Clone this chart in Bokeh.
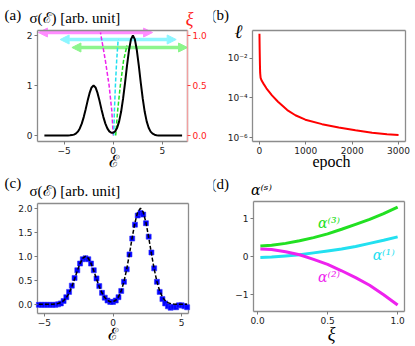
import math
from bokeh.plotting import figure
from bokeh.models import Range1d, LinearAxis, FixedTicker, Label, Arrow, NormalHead
from bokeh.layouts import column, row
from bokeh.embed import file_html
from bokeh.resources import INLINE

# ---------------- data ----------------
energy = [-7.0, -5.4, -5.2, -5.0, -4.8, -4.6, -4.4, -4.2, -4.0, -3.8, -3.6, -3.4, -3.2, -3.0,
          -2.8, -2.6, -2.4, -2.2, -2.0, -1.8, -1.6, -1.4, -1.2, -1.0, -0.8, -0.6, -0.4, -0.2,
          0.0, 0.2, 0.4, 0.6, 0.8, 1.0, 1.2, 1.4, 1.6, 1.8, 2.0, 2.2, 2.4, 2.6, 2.8, 3.0,
          3.2, 3.4, 3.6, 3.8, 4.0, 4.2, 4.4, 4.6, 4.8, 5.0, 5.2, 5.4, 7.0]
sigma_true = [0, 0, 0, 0.0001, 0.0004, 0.0012, 0.003, 0.008, 0.018, 0.039, 0.077, 0.141, 0.237, 0.368,
              0.527, 0.698, 0.852, 0.961, 1.0, 0.961, 0.852, 0.698, 0.527, 0.368, 0.238, 0.143, 0.083, 0.055,
              0.055, 0.086, 0.157, 0.283, 0.474, 0.736, 1.054, 1.396, 1.704, 1.922, 2.0, 1.922, 1.704, 1.396, 1.054, 0.736,
              0.474, 0.282, 0.154, 0.078, 0.037, 0.016, 0.006, 0.0024, 0.0008, 0.0002, 0, 0, 0]

recon_energy = [-5.4, -5.2, -5.0, -4.8, -4.6, -4.4, -4.2, -4.0, -3.8, -3.6, -3.4, -3.2, -3.0,
                -2.8, -2.6, -2.4, -2.2, -2.0, -1.8, -1.6, -1.4, -1.2, -1.0, -0.8, -0.6, -0.4, -0.2,
                0.0, 0.2, 0.4, 0.6, 0.8, 1.0, 1.2, 1.4, 1.6, 1.8, 2.0, 2.2, 2.4, 2.6, 2.8, 3.0,
                3.2, 3.4, 3.6, 3.8, 4.0, 4.2, 4.4, 4.6, 4.8, 5.0, 5.2, 5.4]
sigma_recon = [-0.01, -0.01, -0.01, -0.01, -0.01, -0.01, -0.01, 0.0, 0.02, 0.07, 0.15, 0.26, 0.39,
               0.55, 0.71, 0.85, 0.94, 0.96, 0.94, 0.85, 0.71, 0.54, 0.38, 0.24, 0.14, 0.08, 0.05,
               0.05, 0.08, 0.15, 0.28, 0.47, 0.73, 1.04, 1.37, 1.66, 1.85, 1.90, 1.87, 1.69, 1.41, 1.08, 0.75,
               0.47, 0.26, 0.11, 0.02, -0.04, -0.07, -0.05, -0.06, -0.02, -0.02, -0.04, -0.06]

# panel (a): dashed E(xi) curves and double arrows (magenta, cyan, green)
dash_xi_m = [0.0, 0.25, 0.5, 0.75, 1.03]
dash_E_m = [0.0, -0.15, -0.42, -0.8, -1.3]
dash_xi_c = [0.0, 0.25, 0.5, 0.75, 0.96]
dash_E_c = [0.05, 0.12, 0.22, 0.35, 0.5]
dash_xi_g = [0.0, 0.25, 0.5, 0.75, 0.9]
dash_E_g = [0.25, 0.45, 0.72, 1.05, 1.4]
arrow_xi = [1.03, 0.96, 0.88]
arrow_E_start = [-7.6, -5.4, -4.2]
arrow_E_end = [4.0, 6.4, 7.55]

# panel (b): loss vs epoch
epoch = [0, 5, 10, 15, 25, 50, 90, 150, 270, 400, 600, 775, 990, 1350, 1710, 2070, 2430, 2750, 3000]
loss = [0.166, 0.025, 5.0e-3, 1.78e-3, 1.0e-3, 7.1e-4, 5.0e-4, 3.0e-4, 1.32e-4, 6.3e-5, 2.4e-5,
        1.32e-5, 7.9e-6, 4.7e-6, 3.2e-6, 2.3e-6, 1.74e-6, 1.45e-6, 1.35e-6]

# panel (d): alpha^(s) vs xi
xi = [0.02, 0.1, 0.2, 0.3, 0.4, 0.5, 0.6, 0.7, 0.8, 0.9, 1.0]
alpha1 = [-0.02, -0.01, 0.02, 0.05, 0.1, 0.15, 0.2, 0.27, 0.35, 0.43, 0.52]
alpha2 = [0.2, 0.19, 0.13, 0.05, -0.07, -0.2, -0.37, -0.55, -0.75, -1.0, -1.27]
alpha3 = [0.28, 0.3, 0.35, 0.42, 0.5, 0.6, 0.72, 0.85, 0.98, 1.13, 1.3]

ticks_a_x = [-5, 0, 5]
ticks_a_y = [0, 1, 2]
ticks_a_xi = [0, 0.5, 1]
labels_a_xi = {0: "0.0", 0.5: "0.5", 1: "1.0"}
ticks_b_x = [0, 1000, 2000, 3000]
ticks_b_y = [1e-6, 1e-4, 1e-2]
labels_b_y = {1e-6: "10\u207b\u2076", 1e-4: "10\u207b\u2074", 1e-2: "10\u207b\u00b2"}
ticks_c_x = [-5, 0, 5]
ticks_c_y = [0, 0.5, 1, 1.5, 2]
labels_c_y = {0: "0.0", 0.5: "0.5", 1: "1.0", 1.5: "1.5", 2: "2.0"}
ticks_d_x = [0, 0.5, 1]
labels_d_x = {0: "0.0", 0.5: "0.5", 1: "1.0"}
ticks_d_y = [-1, 0, 1]

MAG, CYA, GRN = "#ee22ee", "#22e0f0", "#22e022"
MAG_L, CYA_L, GRN_L = "#ff8cff", "#8cf6ff", "#8cf58c"
FRAME = "#8c8c8c"
TICKFONT = "DejaVu Sans"
SERIF = "Liberation Serif"

# ---------------- helpers ----------------
# Each figure's plotting frame fills its whole canvas; the visible axes box ("inner frame")
def to_data(px, py, frame, xr, yr, ylog=False):
    l, t, r, b = frame
    x = xr[0] + (px - l) / (r - l) * (xr[1] - xr[0])
    if ylog:
        a, c = math.log10(yr[0]), math.log10(yr[1])
        y = 10 ** (a + (b - py) / (b - t) * (c - a))
    else:
        y = yr[0] + (b - py) / (b - t) * (yr[1] - yr[0])
    return x, y

def make_fig(geom, frame, xr, yr, ylog=False):
    ox, oy, w, h = geom
    x0, y0 = to_data(ox, oy + h, frame, xr, yr, ylog)
    x1, y1 = to_data(ox + w, oy, frame, xr, yr, ylog)
    p = figure(width=w, height=h, x_range=Range1d(x0, x1), y_range=Range1d(y0, y1),
               y_axis_type="log" if ylog else "linear",
               output_backend="svg", toolbar_location=None, min_border=0)
    p.xgrid.visible = False
    p.ygrid.visible = False
    p.outline_line_color = None
    p.background_fill_color = "white"
    p.border_fill_color = "white"
    # axes box drawn as four edge segments
    p.segment(x0=[xr[0], xr[0], xr[0], xr[1]], y0=[yr[0], yr[1], yr[0], yr[0]],
              x1=[xr[1], xr[1], xr[0], xr[1]], y1=[yr[0], yr[1], yr[1], yr[1]],
              line_color=FRAME, line_width=1.3)
    p.xaxis[0].fixed_location = yr[0]
    p.yaxis[0].fixed_location = xr[0]
    return p

def style_axis(ax, ticks, over=None, color="#222222", tick="#7a7a7a"):
    ax.ticker = FixedTicker(ticks=ticks)
    ax.axis_line_color = None
    ax.major_tick_line_color = tick
    ax.major_tick_line_width = 1
    ax.major_tick_in = 0
    ax.major_tick_out = 3
    ax.minor_tick_line_color = None
    ax.major_label_text_font = TICKFONT
    ax.major_label_text_font_size = "9px"
    ax.major_label_text_color = color
    ax.major_label_standoff = 2
    if over:
        ax.major_label_overrides = over

def lab(p, frame, xr, yr, px, py, text, size, font=SERIF, color="black",
        align="left", fstyle="normal", ylog=False):
    x, y = to_data(px, py, frame, xr, yr, ylog)
    p.add_layout(Label(x=x, y=y, text=text, text_font=font, text_font_size=f"{size}px",
                       text_color=color, text_align=align, text_baseline="middle",
                       text_font_style=fstyle))

# ---------------- panel (a) ----------------
geom_a = (0, 0, 213, 170)
frame_a = (37, 30, 187, 141)
xr_a, yr_a, xir_a = (-7.7, 7.55), (-0.12, 2.1), (-0.06, 1.05)
pa = make_fig(geom_a, frame_a, xr_a, yr_a)
_, xi_lo = to_data(0, geom_a[1] + geom_a[3], frame_a, xr_a, xir_a)
_, xi_hi = to_data(0, geom_a[1], frame_a, xr_a, xir_a)
pa.extra_y_ranges = {"xi": Range1d(xi_lo, xi_hi)}
style_axis(pa.xaxis[0], ticks_a_x, {-5: "\u22125"})
style_axis(pa.yaxis[0], ticks_a_y)
ax_r = LinearAxis(y_range_name="xi", fixed_location=xr_a[1])
style_axis(ax_r, ticks_a_xi, labels_a_xi, color="#ff2020", tick="#ff4040")
pa.add_layout(ax_r, "right")
pa.segment(x0=[xr_a[1]], y0=[xir_a[0]], x1=[xr_a[1]], y1=[xir_a[1]], y_range_name="xi",
           line_color="#f2a0a0", line_width=1.3)

for c, xs, xe, yv in zip([MAG_L, CYA_L, GRN_L], arrow_E_start, arrow_E_end, arrow_xi):
    pa.add_layout(Arrow(start=NormalHead(size=9, fill_color=c, line_color=c),
                        end=NormalHead(size=9, fill_color=c, line_color=c),
                        x_start=xs, y_start=yv, x_end=xe, y_end=yv,
                        line_color=c, line_width=3.5, y_range_name="xi", level="underlay"))
pa.line(dash_E_m, dash_xi_m, y_range_name="xi", line_color=MAG, line_width=1.5, line_dash="4 2")
pa.line(dash_E_c, dash_xi_c, y_range_name="xi", line_color=CYA, line_width=1.5, line_dash="4 2")
pa.line(dash_E_g, dash_xi_g, y_range_name="xi", line_color=GRN, line_width=1.5, line_dash="4 2")
pa.line(energy, sigma_true, line_color="black", line_width=2)

lab(pa, frame_a, xr_a, yr_a, 4, 14, "(a)", 15)
lab(pa, frame_a, xr_a, yr_a, 29, 17, "\u03c3(\u2130) [arb. unit]", 15)
lab(pa, frame_a, xr_a, yr_a, 189, 18, "\u03be", 18, color="#ff2020", align="center", fstyle="italic")
lab(pa, frame_a, xr_a, yr_a, 113, 161, "\u2130", 17, align="center")

# ---------------- panel (b) ----------------
geom_b = (213, 0, 200, 170)
frame_b = (252, 30, 405, 141)
xr_b, yr_b = (-150, 3150), (6.3e-7, 0.242)
pb = make_fig(geom_b, frame_b, xr_b, yr_b, ylog=True)
style_axis(pb.xaxis[0], ticks_b_x)
style_axis(pb.yaxis[0], ticks_b_y, labels_b_y)
pb.line(epoch, loss, line_color="#ff0000", line_width=2)
lab(pb, frame_b, xr_b, yr_b, 211, 14, "(b)", 15, ylog=True)
lab(pb, frame_b, xr_b, yr_b, 238, 31, "\u2113", 19, align="center", fstyle="italic", ylog=True)
lab(pb, frame_b, xr_b, yr_b, 331, 161, "epoch", 16, align="center", ylog=True)

# ---------------- panel (c) ----------------
geom_c = (0, 170, 213, 174)
frame_c = (37, 203, 188, 313)
xr_c, yr_c = (-5.5, 5.5), (-0.19, 2.1)
pc = make_fig(geom_c, frame_c, xr_c, yr_c)
style_axis(pc.xaxis[0], ticks_c_x, {-5: "\u22125"})
style_axis(pc.yaxis[0], ticks_c_y, labels_c_y)
pc.scatter(recon_energy, sigma_recon, marker="square", size=5, fill_color="#0000ff",
           line_color="#3030ff", line_alpha=0.6)
pc.line(energy[1:-1], sigma_true[1:-1], line_color="black", line_width=1.5, line_dash="4 2")
lab(pc, frame_c, xr_c, yr_c, 4, 182, "(c)", 15)
lab(pc, frame_c, xr_c, yr_c, 29, 190, "\u03c3(\u2130) [arb. unit]", 15)
lab(pc, frame_c, xr_c, yr_c, 112, 334, "\u2130", 17, align="center")

# ---------------- panel (d) ----------------
geom_d = (213, 170, 200, 174)
frame_d = (253, 201, 404, 311)
xr_d, yr_d = (-0.029, 1.049), (-1.44, 1.45)
pd_ = make_fig(geom_d, frame_d, xr_d, yr_d)
style_axis(pd_.xaxis[0], ticks_d_x, labels_d_x)
style_axis(pd_.yaxis[0], ticks_d_y, {-1: "\u22121"})
pd_.line(xi, alpha3, line_color=GRN, line_width=3)
pd_.line(xi, alpha1, line_color=CYA, line_width=3)
pd_.line(xi, alpha2, line_color=MAG, line_width=3)
for txt, tx, ty, col in [("\u03b1\u207d\u00b3\u207e", 0.51, 0.88, GRN),
                         ("\u03b1\u207d\u00b9\u207e", 0.9, 0.05, CYA),
                         ("\u03b1\u207d\u00b2\u207e", 0.51, -0.53, MAG)]:
    pd_.add_layout(Label(x=tx, y=ty, text=txt, text_font="DejaVu Serif", text_font_size="14px",
                         text_color=col, text_align="center", text_baseline="middle",
                         text_font_style="italic"))
lab(pd_, frame_d, xr_d, yr_d, 211, 183, "(d)", 15)
lab(pd_, frame_d, xr_d, yr_d, 261, 189, "\u03b1\u207d\u02e2\u207e", 14, font="DejaVu Serif",
    align="center", fstyle="italic")
lab(pd_, frame_d, xr_d, yr_d, 331, 333, "\u03be", 18, align="center", fstyle="italic")

layout = column(row(pa, pb), row(pc, pd_))
open("out.html", "w").write(file_html(layout, INLINE))
